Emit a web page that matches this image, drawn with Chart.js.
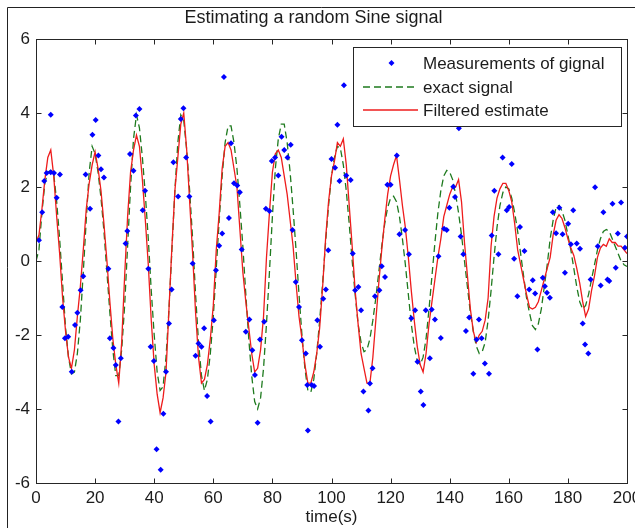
<!DOCTYPE html>
<html>
<head>
<meta charset="utf-8">
<title>Estimating a random Sine signal</title>
<script src="https://cdn.jsdelivr.net/npm/chart.js@4.4.1/dist/chart.umd.min.js"></script>
<style>
  html, body { margin: 0; padding: 0; background: #fff; }
  canvas { display: block; }
</style>
</head>
<body>
<canvas id="chart" width="635" height="528"></canvas>
<script>
// sample step of the two curves, seconds
const STEP = 1;

// exact signal (green dashed), one value per second, t = 0..200
const exactSignal = [
  0.0, 0.3, 1.3, 2.1, 2.4, 2.45, 2.35, 1.6, 0.6, -0.6,
  -1.8, -2.6, -3.05, -3.0, -2.5, -1.6, -0.3, 1.1, 2.4, 3.1,
  2.9, 2.4, 1.7, 0.8, -0.3, -1.4, -2.4, -3.1, -3.1, -2.4,
  -1.2, 0.4, 2.0, 3.3, 3.95, 3.6, 2.8, 1.8, 0.6, -0.8,
  -2.0, -3.0, -3.5, -3.4, -2.6, -1.3, 0.3, 1.9, 3.2, 3.95,
  3.8, 3.0, 1.9, 0.6, -0.9, -2.2, -3.1, -3.5, -3.2, -2.5,
  -1.5, -0.2, 1.1, 2.3, 3.2, 3.65, 3.65, 3.2, 2.5, 1.5,
  0.4, -0.9, -2.1, -3.1, -3.8, -4.0, -3.7, -2.9, -1.7, -0.3,
  1.2, 2.5, 3.3, 3.7, 3.7, 3.2, 2.4, 1.4, 0.3, -0.9,
  -2.0, -2.9, -3.5, -3.55, -3.2, -2.5, -1.6, -0.6, 0.5, 1.5,
  2.3, 2.8, 3.1, 3.05, 2.6, 1.9, 1.0, 0.0, -0.9, -1.7,
  -2.2, -2.45, -2.4, -2.1, -1.6, -1.0, -0.3, 0.4, 1.0, 1.45,
  1.7, 1.75, 1.6, 1.2, 0.6, -0.1, -0.9, -1.7, -2.3, -2.7,
  -2.8, -2.6, -2.1, -1.3, -0.4, 0.5, 1.3, 1.9, 2.3, 2.45,
  2.4, 2.2, 1.8, 1.3, 0.7, 0.0, -0.7, -1.4, -1.9, -2.3,
  -2.5, -2.45, -2.2, -1.6, -0.8, 0.1, 0.9, 1.5, 1.85, 2.0,
  1.95, 1.7, 1.3, 0.8, 0.2, -0.4, -1.0, -1.4, -1.75, -1.85,
  -1.7, -1.3, -0.7, -0.1, 0.6, 1.1, 1.45, 1.5, 1.35, 1.1,
  0.7, 0.3, -0.2, -0.7, -1.1, -1.3, -1.2, -0.9, -0.5, -0.1,
  0.3, 0.6, 0.8, 0.85, 0.8, 0.6, 0.4, 0.2, 0.0, -0.1, -0.15
];

// filtered estimate (red), one value per second, t = 0..200
const filteredEstimate = [
  0.5, 0.7, 1.4, 2.2, 2.8, 3.0, 2.3, 1.2, 0.2, -1.0,
  -1.9, -2.6, -2.9, -2.4, -1.5, -0.7, 0.3, 1.4, 2.1, 2.6,
  2.95, 2.5, 1.9, 1.0, 0.0, -1.1, -2.1, -2.8, -3.3, -2.2,
  -0.4, 1.2, 2.4, 3.0, 3.4, 3.1, 2.2, 1.1, -0.1, -1.6,
  -2.8, -3.6, -4.1, -3.7, -3.0, -1.3, 0.4, 1.9, 2.8, 3.7,
  4.0, 3.0, 1.6, 0.2, -1.4, -2.6, -3.3, -3.2, -2.8, -2.1,
  -1.2, 0.3, 1.3, 2.5, 3.1, 3.2, 3.0, 2.5, 2.0, 0.85,
  -0.3, -1.1, -1.8, -2.5, -3.0, -2.9, -2.4, -1.5, 0.1, 1.3,
  2.4, 2.9, 3.0, 2.8, 2.3, 1.8, 1.1, 0.4, -0.6, -1.5,
  -2.1, -2.8, -3.3, -3.3, -3.0, -2.5, -1.8, -0.7, 0.6, 1.6,
  2.3, 2.7, 3.2, 3.1, 3.3, 2.6, 1.5, 0.4, -0.8, -1.7,
  -2.5, -2.9, -3.3, -3.3, -2.6, -1.6, -0.6, 0.3, 1.1, 1.8,
  2.3, 2.6, 2.85, 2.2, 1.5, 0.9, 0.1, -0.8, -1.6, -2.3,
  -2.8, -3.0, -2.5, -1.7, -1.1, -0.5, 0.1, 0.6, 1.2, 1.5,
  1.8, 2.0, 2.0, 2.2, 1.6, 0.5, -0.4, -1.3, -1.9, -2.2,
  -2.0, -1.9, -1.6, -1.0, 0.4, 1.2, 1.7, 1.95, 2.1, 2.1,
  1.9, 1.6, 1.0, 0.3, -0.1, -0.5, -0.9, -1.25, -1.3, -1.25,
  -1.1, -0.8, -0.5, -0.2, 0.1, 0.7, 1.1, 1.25, 1.15, 0.9,
  0.6, 0.35, 0.15, -0.2, -0.6, -1.1, -1.5, -1.3, -0.8, -0.4,
  0.1, 0.35, 0.45, 0.4, 0.6, 0.5, 0.5, 0.4, 0.4, 0.3, 0.2
];

// noisy measurements (blue dots)
const measTime = [
  1.0, 2.1, 2.8, 3.6, 5.0, 5.0, 6.1, 7.0, 8.1, 8.9,
  9.8, 10.9, 12.1, 13.2, 14.0, 15.1, 16.0, 16.8, 18.3, 19.1,
  20.2, 21.1, 22.0, 23.0, 24.5, 25.0, 26.2, 27.0, 27.9, 28.7,
  30.3, 30.9, 31.8, 33.0, 33.8, 35.0, 36.1, 36.9, 38.0, 38.8,
  39.9, 40.8, 42.2, 43.1, 44.0, 45.0, 45.9, 46.5, 48.1, 49.0,
  49.9, 50.8, 51.9, 53.0, 54.0, 55.0, 56.0, 56.9, 57.9, 59.1,
  60.2, 60.9, 62.0, 63.0, 63.6, 65.3, 66.0, 67.0, 68.1, 69.0,
  69.6, 71.0, 72.2, 73.2, 74.1, 75.0, 75.8, 77.2, 77.8, 79.0,
  79.8, 80.9, 82.0, 83.1, 84.0, 85.1, 86.2, 86.8, 87.9, 89.0,
  90.0, 91.3, 91.8, 92.0, 93.3, 94.1, 95.2, 96.1, 97.2, 98.1,
  98.9, 100.0, 101.2, 102.0, 102.7, 104.2, 105.0, 106.5, 107.2, 108.0,
  109.1, 110.0, 110.8, 112.5, 113.0, 113.9, 114.7, 116.2, 117.0, 118.1,
  118.9, 120.0, 122.1, 123.0, 124.9, 126.2, 127.0, 128.3, 129.1, 130.2,
  131.1, 131.9, 133.3, 133.9, 135.0, 136.2, 137.0, 138.1, 139.0, 139.9,
  141.2, 141.8, 143.1, 143.7, 144.6, 145.5, 146.6, 148.0, 149.1, 149.9,
  150.8, 151.9, 153.3, 154.2, 155.1, 156.5, 157.9, 159.3, 160.1, 161.0,
  161.8, 162.9, 163.8, 165.3, 166.9, 168.1, 168.9, 169.7, 171.5, 172.2,
  172.9, 173.9, 174.9, 176.0, 177.1, 178.2, 179.0, 180.1, 181.0, 181.8,
  183.0, 184.1, 185.0, 185.8, 186.9, 187.7, 189.2, 190.1, 191.1, 192.0,
  193.4, 194.0, 195.1, 196.2, 196.9, 198.0, 199.3, 200.0
];
const measValue = [
  0.56, 1.32, 2.16, 2.38, 2.40, 3.95, 2.38, 1.71, 2.34, -1.24,
  -2.09, -2.05, -2.99, -1.73, -1.40, -0.79, -0.41, 2.34, 1.41, 3.41,
  3.81, 2.85, 2.48, 2.26, -0.21, -2.09, -2.35, -2.81, -4.34, -2.63,
  0.47, 0.81, 2.89, 2.44, 3.93, 4.11, 1.37, 1.90, -0.21, -2.32,
  -2.70, -5.09, -5.64, -4.13, -2.99, -1.69, -0.77, 2.67, 1.74, 3.84,
  4.13, 2.80, 1.74, -0.07, -2.56, -2.23, -2.32, -1.82, -3.65, -4.34,
  -1.60, -0.25, 0.41, 0.74, 4.97, 1.16, 3.18, 2.10, 2.04, 1.86,
  0.31, -1.91, -1.58, -2.41, -3.08, -4.37, -2.12, -1.64, 1.41, 1.35,
  2.70, 2.80, 2.31, 3.36, 3.00, 2.80, 3.14, 0.84, -0.57, -1.24,
  -2.14, -2.50, -3.35, -4.58, -3.35, -3.38, -1.60, -2.32, -1.02, -0.77,
  0.29, 2.76, 2.52, 3.68, 2.16, 4.75, 2.31, 2.19, 0.20, -0.79,
  -0.70, -1.33, -3.53, -4.04, -3.31, -2.90, -0.95, -0.79, -0.14, -0.43,
  2.06, 2.06, 2.85, 0.72, 0.84, 0.18, -1.55, -1.33, -2.72, -3.53,
  -3.89, -1.33, -2.63, -1.31, -1.58, 0.13, -2.08, 0.87, 0.84, 1.44,
  2.01, 1.73, 3.59, 0.66, 0.18, -1.89, -1.53, -3.05, -2.12, -1.58,
  -2.09, -2.77, -3.05, 0.69, 1.90, 0.18, 2.80, 1.37, 1.46, 2.62,
  0.06, -0.95, 0.92, 0.27, -0.77, -0.52, -0.88, -2.39, -0.45, -0.68,
  -0.86, -0.99, 1.32, 0.75, 1.44, 0.72, -0.32, 1.01, 0.45, 1.37,
  0.47, 0.33, -1.69, -2.26, -2.50, -0.50, 1.99, 0.40, -0.66, 1.32,
  -0.50, -0.54, 1.55, -0.18, 0.74, 1.58, 0.36, 0.66
];

const seriesLabels = ['Measurements of gignal', 'exact signal', 'Filtered estimate'];
const xTitle = 'time(s)';
const chartTitle = 'Estimating a random Sine signal';

const FONT = "'Liberation Sans', Arial, Helvetica, sans-serif";
const INK = '#1c1c1c';

// white figure, Matlab style boxed axes with inward ticks, boxed legend
const matlabFrame = {
  id: 'matlabFrame',
  beforeDraw(chart) {
    const c = chart.ctx;
    c.save();
    c.fillStyle = '#fff';
    c.fillRect(0, 0, chart.width, chart.height);
    c.strokeStyle = '#222';
    c.lineWidth = 1;
    c.beginPath();
    c.moveTo(7.5, chart.height);
    c.lineTo(7.5, 7.5);
    c.lineTo(chart.width, 7.5);
    c.stroke();
    c.restore();
  },
  afterDraw(chart) {
    const c = chart.ctx;
    const a = chart.chartArea;
    const xs = chart.scales.x, ys = chart.scales.y;
    const L = Math.round(a.left) + 0.5, R = Math.round(a.right) + 0.5;
    const T = Math.round(a.top) + 0.5, B = Math.round(a.bottom) + 0.5;
    const tick = 5;
    c.save();
    c.strokeStyle = '#262626';
    c.lineWidth = 1;
    c.strokeRect(L, T, R - L, B - T);
    c.beginPath();
    xs.ticks.forEach(t => {
      const px = Math.round(xs.getPixelForValue(t.value)) + 0.5;
      c.moveTo(px, B); c.lineTo(px, B - tick);
      c.moveTo(px, T); c.lineTo(px, T + tick);
    });
    ys.ticks.forEach(t => {
      const py = Math.round(ys.getPixelForValue(t.value)) + 0.5;
      c.moveTo(L, py); c.lineTo(L + tick, py);
      c.moveTo(R, py); c.lineTo(R - tick, py);
    });
    c.stroke();

    // legend box
    const box = { x: 353.5, y: 47.5, w: 268, h: 79 };
    c.fillStyle = '#fff';
    c.fillRect(box.x, box.y, box.w, box.h);
    c.strokeRect(box.x, box.y, box.w, box.h);
    const rows = [63, 87, 110];
    const x0 = 363, x1 = 418, tx = 423;
    const ds = chart.data.datasets;
    ds.forEach((d, i) => {
      const y = rows[i];
      if (!d.showLine) {
        c.fillStyle = d.backgroundColor;
        c.beginPath();
        const r = d.pointRadius, cx = (x0 + x1) / 2 + 1;
        c.moveTo(cx, y - r); c.lineTo(cx + r, y); c.lineTo(cx, y + r); c.lineTo(cx - r, y);
        c.closePath();
        c.fill();
      } else {
        c.strokeStyle = d.borderColor;
        c.lineWidth = d.borderWidth;
        c.setLineDash(d.borderDash || []);
        c.beginPath();
        c.moveTo(x0, y); c.lineTo(x1, y);
        c.stroke();
        c.setLineDash([]);
      }
      c.fillStyle = INK;
      c.font = `17px ${FONT}`;
      c.textBaseline = 'middle';
      c.textAlign = 'left';
      c.fillText(d.label, tx, y + 1);
    });
    c.restore();
  }
};

new Chart(document.getElementById('chart'), {
  type: 'scatter',
  data: {
    datasets: [
      {
        label: seriesLabels[0],
        data: measTime.map((t, i) => ({ x: t, y: measValue[i] })),
        showLine: false,
        pointStyle: 'rectRot',
        pointRadius: 3,
        backgroundColor: '#0000ff',
        borderColor: '#0000ff',
        borderWidth: 0,
        order: 0
      },
      {
        label: seriesLabels[1],
        data: exactSignal.map((v, i) => ({ x: i * STEP, y: v })),
        showLine: true,
        borderColor: '#1e7a1e',
        borderWidth: 1.3,
        borderDash: [7, 4],
        pointRadius: 0,
        order: 2
      },
      {
        label: seriesLabels[2],
        data: filteredEstimate.map((v, i) => ({ x: i * STEP, y: v })),
        showLine: true,
        borderColor: '#ee1c1c',
        borderWidth: 1.3,
        pointRadius: 0,
        order: 1
      }
    ]
  },
  options: {
    responsive: false,
    animation: false,
    devicePixelRatio: 1,
    layout: { autoPadding: false, padding: { left: 0, right: 8, top: 0, bottom: 0 } },
    plugins: {
      legend: { display: false },
      tooltip: { enabled: false },
      title: {
        display: true,
        text: chartTitle,
        color: INK,
        font: { family: FONT, size: 18, weight: 'normal' },
        padding: { top: 7.5, bottom: 9.9 }
      }
    },
    scales: {
      x: {
        type: 'linear',
        min: 0, max: 200,
        grid: { display: false, drawTicks: false },
        border: { display: false },
        ticks: { stepSize: 20, color: INK, padding: 5, maxRotation: 0, autoSkip: false, font: { family: FONT, size: 17 } },
        title: { display: true, text: xTitle, color: INK, font: { family: FONT, size: 17 }, padding: { top: 0, bottom: 0 } },
        afterFit(s) { s.height = 45; s.paddingLeft = 0; s.paddingRight = 0; }
      },
      y: {
        min: -6, max: 6,
        grid: { display: false, drawTicks: false },
        border: { display: false },
        ticks: { stepSize: 2, color: INK, padding: 6, font: { family: FONT, size: 17 } },
        afterFit(s) { s.width = 36; s.paddingTop = 0; s.paddingBottom = 0; }
      }
    }
  },
  plugins: [matlabFrame]
});
</script>
</body>
</html>
